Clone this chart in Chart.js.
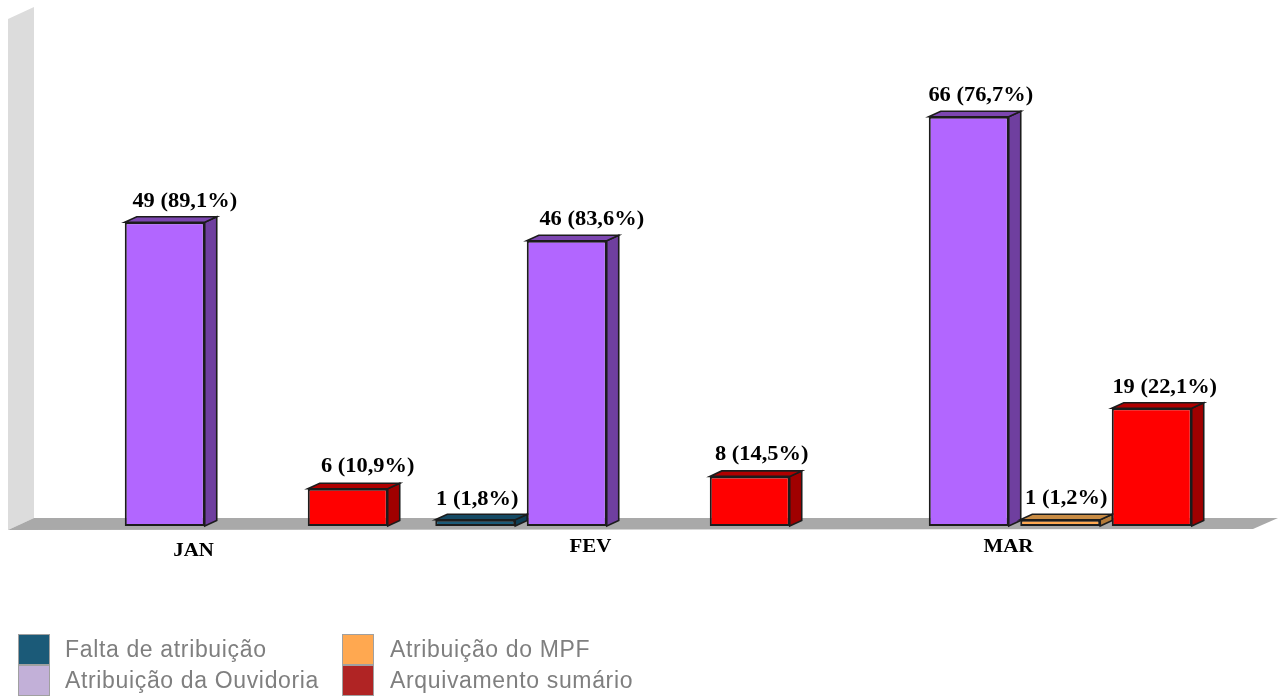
<!DOCTYPE html>
<html lang="pt">
<head>
<meta charset="utf-8">
<style>html,body{margin:0;padding:0;background:#fff;overflow:hidden}canvas{display:block}</style>
<script src="https://cdn.jsdelivr.net/npm/chart.js@4/dist/chart.umd.min.js"></script>
</head>
<body>
<canvas id="c" width="1278" height="697"></canvas>
<script>
const categories = ["JAN", "FEV", "MAR"];
const seriesNames = ["Falta de atribuição", "Atribuição da Ouvidoria", "Atribuição do MPF", "Arquivamento sumário"];
const faltaValues = [0, 1, 0];
const ouvidoriaValues = [49, 46, 66];
const mpfValues = [0, 0, 1];
const arquivamentoValues = [6, 8, 19];
const faltaPct = [null, "1,8", null];
const ouvidoriaPct = ["89,1", "83,6", "76,7"];
const mpfPct = [null, null, "1,2"];
const arquivamentoPct = ["10,9", "14,5", "22,1"];

const pctBySeries = [faltaPct, ouvidoriaPct, mpfPct, arquivamentoPct];
const frontColors = ["#1b5a78", "#b266ff", "#ffa850", "#ff0000"];
const sideColors = ["#0f3e55", "#6f3f9f", "#b47a38", "#a00000"];
const topColors = ["#154a64", "#7c46b0", "#c98c44", "#b00000"];
const legendColors = ["#1b5a78", "#c2b0d8", "#ffa850", "#b02424"];
const catLabelShift = [[-17, 25], [-22, 21], [-6, 21]];
const labelShift = [
  [null, [2, -20], null],
  [[20, -21], [25, -21], [12, -21]],
  [null, null, [6, -21]],
  [[20, -22], [12, -22], [13, -21]]
];
const DX = 12, DY = 5.5;
const SERIF = '"Liberation Serif", serif';

function stretchedText(ctx, text, x, y, sx) {
  ctx.save();
  ctx.translate(x, y);
  ctx.scale(sx, 1);
  ctx.fillText(text, 0, 0);
  ctx.restore();
}

const depthPlugin = {
  id: "depth",
  beforeDatasetsDraw(chart) {
    const ctx = chart.ctx;
    ctx.save();
    ctx.fillStyle = "#dcdcdc";
    ctx.beginPath();
    ctx.moveTo(8, 19); ctx.lineTo(34, 7); ctx.lineTo(34, 518); ctx.lineTo(8, 530);
    ctx.closePath(); ctx.fill();
    ctx.fillStyle = "#a9a9a9";
    ctx.beginPath();
    ctx.moveTo(8, 530); ctx.lineTo(34, 518); ctx.lineTo(1278, 518); ctx.lineTo(1253, 529); ctx.lineTo(8, 530);
    ctx.closePath(); ctx.fill();
    ctx.strokeStyle = "#1c1c1c";
    ctx.lineWidth = 1.6;
    chart.data.datasets.forEach((ds, i) => {
      chart.getDatasetMeta(i).data.forEach((bar, j) => {
        if (!ds.data[j]) return;
        const w = bar.width, l = bar.x - w / 2, r = bar.x + w / 2, t = bar.y, b = bar.base;
        ctx.fillStyle = sideColors[i];
        ctx.beginPath();
        ctx.moveTo(r, t); ctx.lineTo(r + DX, t - DY); ctx.lineTo(r + DX, b - DY); ctx.lineTo(r, b);
        ctx.closePath(); ctx.fill(); ctx.stroke();
        ctx.fillStyle = topColors[i];
        ctx.beginPath();
        ctx.moveTo(l, t); ctx.lineTo(l + DX, t - DY); ctx.lineTo(r + DX, t - DY); ctx.lineTo(r, t);
        ctx.closePath(); ctx.fill(); ctx.stroke();
      });
    });
    ctx.restore();
  },
  afterDatasetsDraw(chart) {
    const ctx = chart.ctx;
    ctx.save();
    ctx.fillStyle = "#000";
    ctx.textAlign = "center";
    ctx.textBaseline = "middle";
    ctx.font = "bold 22px " + SERIF;
    chart.data.datasets.forEach((ds, i) => {
      chart.getDatasetMeta(i).data.forEach((bar, j) => {
        if (!ds.data[j]) return;
        const s = labelShift[i][j];
        stretchedText(ctx, ds.data[j] + " (" + pctBySeries[i][j] + "%)", bar.x + s[0], bar.y + s[1], 1.02);
      });
    });
    const sx = chart.scales.x;
    ctx.font = "bold 19px " + SERIF;
    categories.forEach((c, j) => {
      stretchedText(ctx, c, sx.getPixelForTick(j) + catLabelShift[j][0], chart.chartArea.bottom + catLabelShift[j][1], 1.1);
    });
    ctx.textAlign = "left";
    ctx.font = '23px "Liberation Sans", sans-serif';
    ctx.letterSpacing = "0.65px";
    const colX = [18, 342], rowY = [634, 665], swW = 32, swH = 31;
    seriesNames.forEach((name, i) => {
      const cx = colX[i >> 1], cy = rowY[i & 1];
      ctx.fillStyle = legendColors[i];
      ctx.fillRect(cx, cy, swW, swH);
      ctx.strokeStyle = "#a0a0a0";
      ctx.lineWidth = 1;
      ctx.strokeRect(cx + .5, cy + .5, swW - 1, swH - 1);
      ctx.fillStyle = "#7f7f7f";
      ctx.fillText(name, cx + swW + 15 + (i >> 1), cy + 17);
    });
    ctx.restore();
  }
};

const makeDs = (i, values) => ({
  label: seriesNames[i],
  data: values,
  backgroundColor: frontColors[i],
  borderColor: "#1c1c1c",
  borderWidth: 2,
  borderSkipped: false
});

new Chart(document.getElementById("c"), {
  type: "bar",
  data: {
    labels: categories,
    datasets: [
      makeDs(0, faltaValues),
      makeDs(1, ouvidoriaValues),
      makeDs(2, mpfValues),
      makeDs(3, arquivamentoValues)
    ]
  },
  plugins: [depthPlugin],
  options: {
    responsive: false,
    animation: false,
    devicePixelRatio: 1,
    layout: { padding: { left: 9.5, right: 62.5, top: 30, bottom: 171 } },
    datasets: { bar: { categoryPercentage: 0.9104, barPercentage: 0.874 } },
    plugins: { legend: { display: false }, tooltip: { enabled: false }, title: { display: false } },
    scales: {
      x: { display: false },
      y: { display: false, min: 0, max: 80 }
    }
  }
});
</script>
</body>
</html>
